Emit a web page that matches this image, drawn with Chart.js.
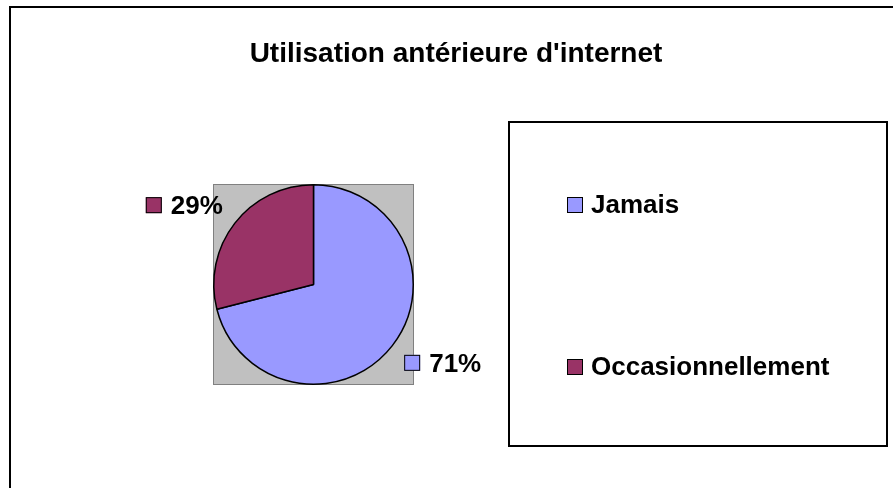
<!DOCTYPE html>
<html>
<head>
  <meta charset="UTF-8">
  <title>Utilisation antérieure d'internet</title>
  <script src="https://cdn.jsdelivr.net/npm/chart.js"></script>
  <style>
    body {
      margin: 0;
      background: #ffffff;
    }
    .chart-box {
      width: 893px;
      height: 488px;
    }
  </style>
</head>
<body>

<div class="chart-box">
  <canvas id="usageChart" width="893" height="488"></canvas>
</div>

<script>
  // data
  const chartTitle = "Utilisation antérieure d'internet";
  const categories = ['Jamais', 'Occasionnellement'];
  const percentages = [71, 29];
  const sliceColors = ['#9999FF', '#993366'];

  const FONT = '"Liberation Sans", Arial, sans-serif';

  // frame, grey plot area, title, outside labels and the boxed legend (Excel look)
  const excelLook = {
    id: 'excelLook',
    beforeDraw(chart) {
      const ctx = chart.ctx;
      const area = chart.chartArea;
      ctx.save();
      ctx.fillStyle = '#ffffff';
      ctx.fillRect(0, 0, chart.width, chart.height);

      // outer chart frame (runs past the right and bottom edges)
      ctx.strokeStyle = '#000000';
      ctx.lineWidth = 2;
      ctx.strokeRect(10, 7, 1000, 1000);

      // plot area
      ctx.fillStyle = '#C0C0C0';
      ctx.fillRect(area.left, area.top, area.right - area.left, area.bottom - area.top);
      ctx.strokeStyle = '#808080';
      ctx.lineWidth = 1;
      ctx.strokeRect(area.left + 0.5, area.top + 0.5, area.right - area.left - 1, area.bottom - area.top - 1);
      ctx.restore();
    },
    afterDraw(chart) {
      const ctx = chart.ctx;
      const meta = chart.getDatasetMeta(0);
      const values = chart.data.datasets[0].data;
      const colors = chart.data.datasets[0].backgroundColor;
      const total = values.reduce((a, b) => a + b, 0);

      ctx.save();

      // title
      ctx.fillStyle = '#000000';
      ctx.font = 'bold 28px ' + FONT;
      ctx.textAlign = 'center';
      ctx.textBaseline = 'alphabetic';
      ctx.fillText(chartTitle, 456, 62);

      // percentage labels outside the slices
      ctx.font = 'bold 26px ' + FONT;
      meta.data.forEach((arc, i) => {
        const p = arc.getProps(['x', 'y', 'startAngle', 'endAngle', 'outerRadius'], true);
        const mid = (p.startAngle + p.endAngle) / 2;
        const dx = Math.cos(mid);
        const dy = Math.sin(mid);
        const px = p.x + dx * (p.outerRadius + 15);
        const py = p.y + dy * (p.outerRadius + 15);

        const text = Math.round(values[i] / total * 100) + '%';
        const sq = 16, gap = 9, h = 17;
        const w = sq + gap + ctx.measureText(text).width;
        const left = dx >= 0 ? px : px - w;
        const top = dy >= 0 ? py : py - h;

        ctx.fillStyle = colors[i];
        ctx.fillRect(left, top, sq, sq);
        ctx.strokeStyle = '#000000';
        ctx.lineWidth = 1;
        ctx.strokeRect(left + 0.5, top + 0.5, sq - 1, sq - 1);

        ctx.fillStyle = '#000000';
        ctx.textAlign = 'left';
        ctx.textBaseline = 'middle';
        ctx.fillText(text, left + sq + gap, top + h / 2 + 1);
      });

      // legend box
      const box = {left: 509, top: 122, right: 887, bottom: 446};
      ctx.strokeStyle = '#000000';
      ctx.lineWidth = 2;
      ctx.strokeRect(box.left, box.top, box.right - box.left, box.bottom - box.top);

      const n = chart.data.labels.length;
      const step = (box.bottom - box.top) / n;
      chart.data.labels.forEach((label, i) => {
        const cy = box.top + step * (i + 0.5) + 2;
        ctx.fillStyle = colors[i];
        ctx.fillRect(567, cy - 8, 16, 16);
        ctx.strokeStyle = '#000000';
        ctx.lineWidth = 1;
        ctx.strokeRect(567.5, cy - 7.5, 15, 15);

        ctx.fillStyle = '#000000';
        ctx.textAlign = 'left';
        ctx.textBaseline = 'middle';
        ctx.fillText(label, 591, cy + 1);
      });

      ctx.restore();
    }
  };

  const ctx = document.getElementById('usageChart').getContext('2d');

  new Chart(ctx, {
    type: 'pie',
    data: {
      labels: categories,
      datasets: [{
        data: percentages,
        backgroundColor: sliceColors,
        borderColor: '#000000',
        borderWidth: 1.5
      }]
    },
    options: {
      responsive: false,
      animation: false,
      layout: {
        padding: {left: 213, right: 479, top: 184, bottom: 103}
      },
      plugins: {
        legend: {display: false},
        title: {display: false},
        tooltip: {enabled: false}
      }
    },
    plugins: [excelLook]
  });
</script>

</body>
</html>
